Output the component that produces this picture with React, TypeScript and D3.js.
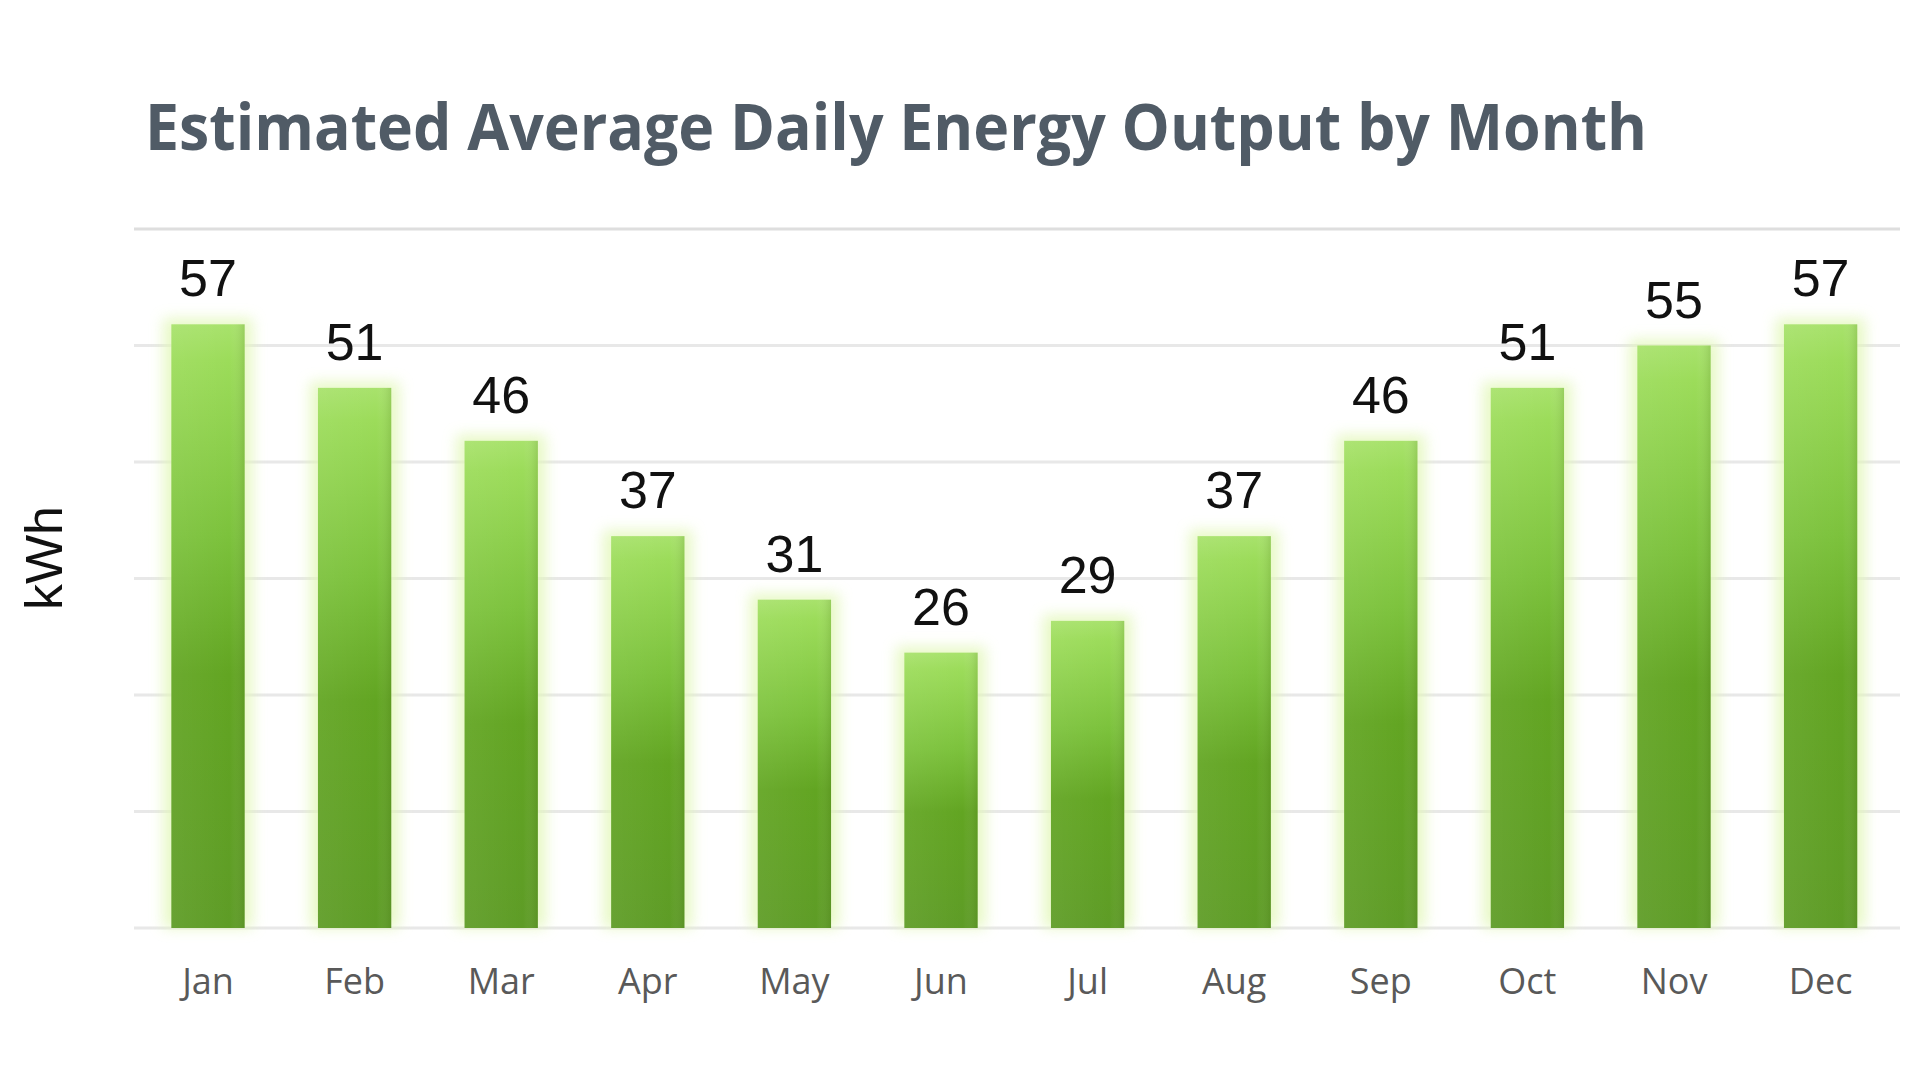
import * as d3 from "d3";

const months = ["Jan", "Feb", "Mar", "Apr", "May", "Jun", "Jul", "Aug", "Sep", "Oct", "Nov", "Dec"];
const output = [57, 51, 46, 37, 31, 26, 29, 37, 46, 51, 55, 57];
const gridTicks = [0, 11, 22, 33, 44, 55, 66];
const title = "Estimated Average Daily Energy Output by Month";
const yLabel = "kWh";

const WIDTH = 1920;
const HEIGHT = 1080;

const App = () => {
  const x = d3
    .scaleBand<string>()
    .domain(months)
    .range([134.7, 1893.9])
    .paddingInner(0.5)
    .paddingOuter(0.25);
  const y = d3.scaleLinear().domain([0, 66]).range([928, 229]);
  const bw = x.bandwidth();

  return (
    <svg
      width={WIDTH}
      height={HEIGHT}
      style={{ position: "absolute", left: 0, top: 0, background: "#fff" }}
    >
      <defs>
        <linearGradient id="barFill" x1="0" y1="0" x2="0" y2="1">
          <stop offset="0%" stopColor="#a8e26c" />
          <stop offset="6%" stopColor="#9cdc5a" />
          <stop offset="35%" stopColor="#7cc23c" />
          <stop offset="58%" stopColor="#62a522" />
          <stop offset="100%" stopColor="#5e9c26" />
        </linearGradient>
        <linearGradient id="barShade" x1="0" y1="0" x2="1" y2="0">
          <stop offset="0%" stopColor="#ffffff" stopOpacity={0.06} />
          <stop offset="80%" stopColor="#ffffff" stopOpacity={0} />
          <stop offset="100%" stopColor="#3d5a14" stopOpacity={0.15} />
        </linearGradient>
        <filter id="glow" x="-50%" y="-20%" width="200%" height="140%">
          <feGaussianBlur stdDeviation="7" />
        </filter>
      </defs>

      <text
        x={145}
        y={150}
        fontFamily="'Open Sans', sans-serif"
        fontWeight={700}
        fontSize={64}
        fill="#505b66"
        textLength={1502}
        lengthAdjust="spacingAndGlyphs"
      >
        {title}
      </text>

      <g>
        {gridTicks.map((t, i) => (
          <line
            key={t}
            x1={134}
            x2={1900}
            y1={y(t)}
            y2={y(t)}
            stroke={i === gridTicks.length - 1 ? "#dedede" : "#e8e8e8"}
            strokeWidth={3}
          />
        ))}
      </g>

      <g>
        {months.map((m, i) => (
          <rect
            key={m}
            x={x(m)! - 8}
            y={y(output[i]) - 6}
            width={bw + 16}
            height={y(0) - y(output[i]) + 6}
            fill="#e2f7b8"
            opacity={0.8}
            filter="url(#glow)"
          />
        ))}
      </g>

      <g>
        {months.map((m, i) => (
          <g key={m}>
            <rect
              x={x(m)}
              y={y(output[i])}
              width={bw}
              height={y(0) - y(output[i])}
              fill="url(#barFill)"
            />
            <rect
              x={x(m)}
              y={y(output[i])}
              width={bw}
              height={y(0) - y(output[i])}
              fill="url(#barShade)"
            />
          </g>
        ))}
      </g>

      <g
        fontFamily="'Liberation Sans', Arial, sans-serif"
        fontSize={52}
        fill="#111"
        textAnchor="middle"
      >
        {months.map((m, i) => (
          <text key={m} x={x(m)! + bw / 2} y={y(output[i]) - 28}>
            {output[i]}
          </text>
        ))}
      </g>

      <g
        fontFamily="'Open Sans', sans-serif"
        fontSize={36}
        fill="#595959"
        textAnchor="middle"
      >
        {months.map((m) => (
          <text key={m} x={x(m)! + bw / 2} y={994}>
            {m}
          </text>
        ))}
      </g>

      <text
        transform={`translate(62, 558) rotate(-90)`}
        textAnchor="middle"
        fontFamily="'Liberation Sans', Arial, sans-serif"
        fontSize={52}
        fill="#111"
      >
        {yLabel}
      </text>
    </svg>
  );
};

export default App;
